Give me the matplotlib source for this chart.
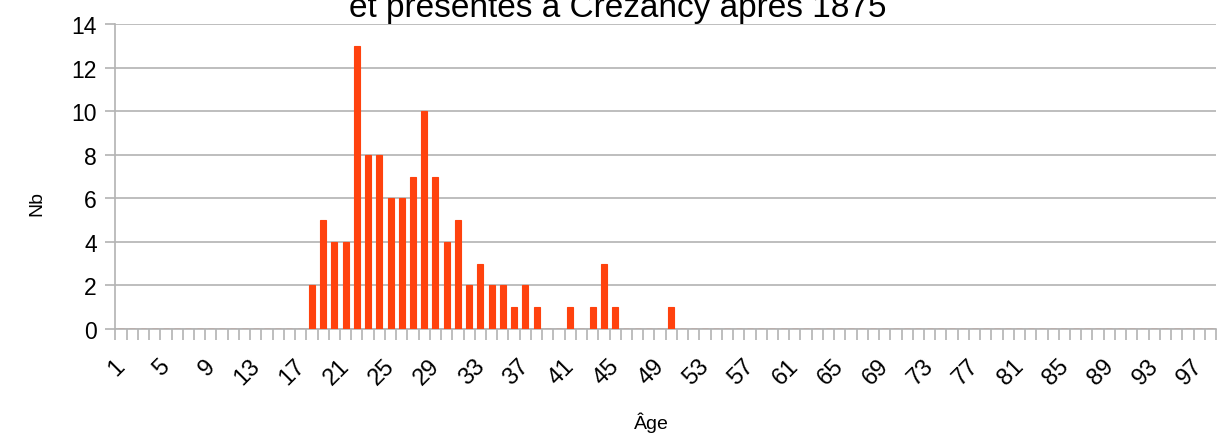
import numpy as np
import matplotlib.pyplot as plt
from matplotlib.ticker import FixedLocator

# Ages 1..98 and number of people per age
ages = list(range(1, 99))
counts_by_age = {
    18: 2, 19: 5, 20: 4, 21: 4, 22: 13, 23: 8, 24: 8, 25: 6, 26: 6,
    27: 7, 28: 10, 29: 7, 30: 4, 31: 5, 32: 2, 33: 3, 34: 2, 35: 2,
    36: 1, 37: 2, 38: 1, 41: 1, 43: 1, 44: 3, 45: 1, 50: 1,
}
counts = [counts_by_age.get(a, 0) for a in ages]
tick_labels = [str(a) for a in ages[::4]]

title = "et présentés à Crézancy après 1875"
bar_color = "#ff420e"
grid_color = "#b3b3b3"

plt.rcParams["font.family"] = ["Liberation Sans", "DejaVu Sans"]


def main():
    fig = plt.figure(figsize=(12.18, 4.35), dpi=100)
    ax = fig.add_axes([115.4 / 1218, 1 - 330 / 435, 1100.6 / 1218, 305 / 435])

    x = np.arange(len(ages))
    ax.bar(x, counts, width=0.53, color=bar_color, edgecolor=bar_color,
           linewidth=0.8, zorder=3)

    ax.set_xlim(-0.5, len(ages) - 0.5)
    ax.set_ylim(0, 14)
    ax.set_yticks(range(0, 15, 2))
    ax.yaxis.grid(True, color=grid_color, linewidth=1.2, zorder=0)

    # labels every 4 ages, tick marks between every category
    ax.set_xticks(x[::4] + 0.05)
    ax.set_xticklabels(tick_labels, rotation=45, ha="right", va="center",
                       rotation_mode="anchor")
    ax.xaxis.set_minor_locator(FixedLocator(np.arange(-0.5, len(ages), 1)))
    ax.tick_params(axis="x", which="major", length=0, pad=24, labelsize=17)
    ax.tick_params(axis="x", which="minor", length=8, width=1.2,
                   color=grid_color)
    ax.tick_params(axis="y", length=7.5, width=1.2, color=grid_color,
                   pad=6, labelsize=16.5)

    for side in ["top", "right"]:
        ax.spines[side].set_visible(False)
    for side in ["left", "bottom"]:
        ax.spines[side].set_color(grid_color)
        ax.spines[side].set_linewidth(1.2)

    fig.text(37 / 1218, 1 - 204 / 435, "Nb", rotation=90, fontsize=14,
             ha="center", va="center")
    fig.text(651 / 1218, 1 - 423 / 435, "Âge", fontsize=14,
             ha="center", va="center")
    fig.text(617.5 / 1218, 1 - 17.5 / 435, title, fontsize=24,
             ha="center", va="baseline")

    fig.savefig("out.png", dpi=100)


if __name__ == "__main__":
    main()
